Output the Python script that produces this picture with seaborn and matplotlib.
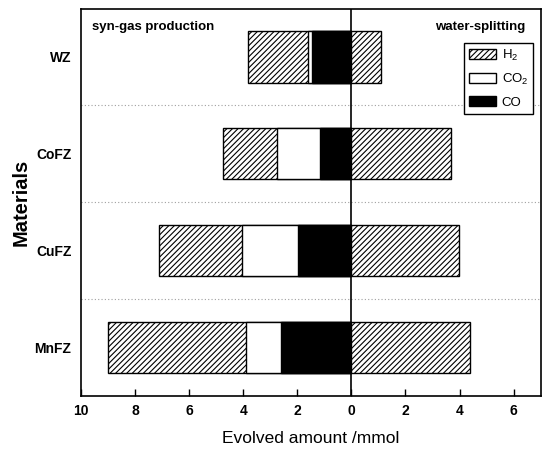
import matplotlib
matplotlib.use("Agg")
import matplotlib.pyplot as plt
from matplotlib.patches import Patch
import numpy as np
import pandas as pd
import seaborn as sns

# Evolved gas amounts (mmol) per material
materials = ["WZ", "CoFZ", "CuFZ", "MnFZ"]
co_syngas = [1.46, 1.16, 1.97, 2.59]
co2_syngas = [0.16, 1.59, 2.08, 1.31]
h2_syngas = [2.19, 2.01, 3.08, 5.09]
h2_water = [1.11, 3.70, 3.99, 4.37]

x_ticks = [-10, -8, -6, -4, -2, 0, 2, 4, 6]

sns.set_theme(style="white")
plt.rcParams["font.family"] = ["Liberation Sans", "DejaVu Sans"]
plt.rcParams["mathtext.fontset"] = "custom"
plt.rcParams["mathtext.rm"] = "Liberation Sans"
plt.rcParams["mathtext.it"] = "Liberation Sans"
plt.rcParams["mathtext.bf"] = "Liberation Sans:bold"
plt.rcParams["hatch.linewidth"] = 0.8
plt.rcParams["hatch.color"] = "black"
for key in ["text.color", "axes.labelcolor", "xtick.color", "ytick.color"]:
    plt.rcParams[key] = "black"

HATCH = "//////"

df = pd.DataFrame({
    "material": materials,
    "co": co_syngas,
    "co2": co2_syngas,
    "h2": h2_syngas,
    "h2_water": h2_water,
})
# syn-gas production is plotted to the left of zero as cumulative stacks
df["left_total"] = -(df["co"] + df["co2"] + df["h2"])
df["left_co_co2"] = -(df["co"] + df["co2"])
df["left_co"] = -df["co"]

fig = plt.figure(figsize=(5.44, 4.5), dpi=100)
ax = fig.add_axes([0.1489, 0.1207, 0.9939 - 0.1489, 0.981 - 0.1207])

bar_kw = dict(y="material", orient="h", width=0.53, errorbar=None,
              saturation=1, edgecolor="black", linewidth=1.0, ax=ax, zorder=3)

sns.barplot(data=df, x="left_total", color="white", hatch=HATCH, **bar_kw)
sns.barplot(data=df, x="left_co_co2", color="white", **bar_kw)
sns.barplot(data=df, x="left_co", color="black", **bar_kw)
sns.barplot(data=df, x="h2_water", color="white", hatch=HATCH, **bar_kw)

# separators between material rows
for b in np.arange(len(materials) - 1) + 0.5:
    ax.axhline(b, color="#a0a0a0", linestyle=(0, (1, 2)), linewidth=0.8, zorder=1)

ax.axvline(0, color="black", linewidth=1.2, zorder=4)

ax.set_xlim(-10, 7)
ax.set_ylim(len(materials) - 0.5, -0.5)
ax.set_xticks(x_ticks)
ax.set_xticklabels([str(abs(t)) for t in x_ticks], fontweight="bold", fontsize=10)
ax.set_yticks(range(len(materials)))
ax.set_yticklabels(materials, fontweight="bold", fontsize=10)
ax.tick_params(axis="x", direction="in", length=5, width=1, color="black",
               bottom=True, top=False, pad=6)
ax.tick_params(axis="y", length=0, pad=7)

for s in ax.spines.values():
    s.set_color("black")
    s.set_linewidth(1.2)

ax.set_xlabel("Evolved amount /mmol", fontsize=12.5, labelpad=9)
ax.set_ylabel("Materials", fontsize=14.5, fontweight="bold", labelpad=3)

ax.text(0.025, 0.952, "syn-gas production", transform=ax.transAxes,
        fontsize=9.5, fontweight="bold", va="center", ha="left")
ax.text(0.966, 0.952, "water-splitting", transform=ax.transAxes,
        fontsize=9.5, fontweight="bold", va="center", ha="right")

handles = [
    Patch(facecolor="white", edgecolor="black", hatch=HATCH, linewidth=1),
    Patch(facecolor="white", edgecolor="black", linewidth=1),
    Patch(facecolor="black", edgecolor="black", linewidth=1),
]
leg = ax.legend(handles, ["H$_2$", "CO$_2$", "CO"], loc="upper right",
                bbox_to_anchor=(0.983, 0.911), borderaxespad=0,
                fontsize=9.5, handlelength=2.1, handleheight=0.8,
                handletextpad=0.4, labelspacing=0.7, borderpad=0.35,
                fancybox=False, framealpha=1, edgecolor="black")
leg.get_frame().set_linewidth(1.0)
leg.set_zorder(5)

fig.savefig("out.png", dpi=100)
